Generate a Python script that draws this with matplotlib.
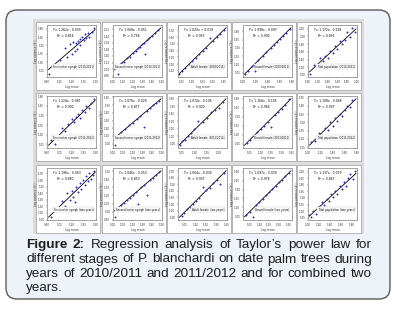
import numpy as np
import matplotlib
matplotlib.use("Agg")
import matplotlib.pyplot as plt
from matplotlib.patches import FancyBboxPatch, Rectangle
from matplotlib.ticker import MaxNLocator, FormatStrFormatter

# ---- data ----
stages = ["First instar nymph", "Second instar nymph", "Adult female",
          "Gravid female", "Total population"]
periods = ["(2010/2011)", "(2011/2012)", "(two years)"]

slopes = [1.262, 1.068, 1.020, 1.098, 1.172,
          1.224, 1.076, 1.074, 1.166, 1.108,
          1.196, 1.046, 1.064, 1.097, 1.137]
intercepts = [-0.093, -0.051, 0.019, -0.097, -0.128,
              -0.087, -0.020, -0.106, -0.105, -0.048,
              -0.063, -0.053, -0.034, -0.030, -0.079]
r_squared = [0.854, 0.758, 0.957, 0.992, 0.836,
             0.902, 0.877, 0.920, 0.964, 0.907,
             0.880, 0.850, 0.937, 0.978, 0.867]
x_limits = [(0.90, 1.50), (1.00, 1.50), (1.00, 1.70), (1.00, 1.80), (1.00, 2.00),
            (0.90, 1.50), (1.00, 1.50), (1.00, 1.60), (0.95, 1.65), (1.00, 1.80),
            (0.90, 1.50), (1.00, 1.50), (0.95, 1.65), (0.95, 1.70), (1.00, 1.90)]

log_mean = [
    [0.93, 1.06, 1.12, 1.15, 1.18, 1.20, 1.22, 1.24, 1.25, 1.27, 1.28, 1.30, 1.31, 1.33, 1.35, 1.36, 1.38, 1.40, 1.42, 1.45, 1.47],
    [1.05, 1.08, 1.11, 1.14, 1.17, 1.20, 1.23, 1.26, 1.28, 1.30, 1.32, 1.33, 1.35, 1.37, 1.40, 1.43, 1.46],
    [1.02, 1.05, 1.10, 1.15, 1.20, 1.25, 1.30, 1.35, 1.40, 1.45, 1.50, 1.55, 1.60, 1.65],
    [1.03, 1.08, 1.15, 1.20, 1.25, 1.32, 1.38, 1.45, 1.50, 1.55, 1.60, 1.65, 1.70, 1.76],
    [1.05, 1.12, 1.20, 1.25, 1.30, 1.35, 1.40, 1.45, 1.50, 1.55, 1.60, 1.65, 1.70, 1.75, 1.80, 1.85, 1.90, 1.95],
    [0.95, 1.00, 1.08, 1.12, 1.16, 1.20, 1.23, 1.26, 1.28, 1.30, 1.33, 1.36, 1.38, 1.41, 1.44, 1.47],
    [1.02, 1.08, 1.12, 1.16, 1.20, 1.24, 1.28, 1.32, 1.35, 1.38, 1.41, 1.44, 1.47],
    [1.02, 1.05, 1.08, 1.12, 1.16, 1.20, 1.25, 1.30, 1.35, 1.40, 1.45, 1.50, 1.55],
    [1.00, 1.05, 1.10, 1.15, 1.20, 1.25, 1.30, 1.35, 1.40, 1.45, 1.50, 1.55, 1.60],
    [1.05, 1.12, 1.18, 1.24, 1.28, 1.32, 1.36, 1.40, 1.44, 1.48, 1.52, 1.56, 1.60, 1.64, 1.68, 1.72],
    [0.95, 1.00, 1.05, 1.08, 1.12, 1.15, 1.18, 1.20, 1.22, 1.24, 1.26, 1.28, 1.30, 1.32, 1.34, 1.36, 1.38, 1.40, 1.42, 1.44, 1.46, 1.48],
    [1.02, 1.05, 1.08, 1.11, 1.14, 1.17, 1.20, 1.23, 1.26, 1.29, 1.32, 1.35, 1.38, 1.41, 1.44, 1.47],
    [1.00, 1.04, 1.08, 1.12, 1.16, 1.20, 1.25, 1.30, 1.35, 1.40, 1.45, 1.50, 1.55, 1.60],
    [1.00, 1.05, 1.10, 1.15, 1.20, 1.25, 1.30, 1.35, 1.40, 1.45, 1.50, 1.55, 1.60, 1.65],
    [1.02, 1.06, 1.10, 1.14, 1.18, 1.22, 1.26, 1.30, 1.34, 1.38, 1.42, 1.46, 1.50, 1.54, 1.58, 1.62, 1.66, 1.70, 1.74, 1.78, 1.82, 1.86],
]
log_var = [
    [0.98, 1.24, 1.46, 1.30, 1.52, 1.35, 1.56, 1.40, 1.55, 1.44, 1.58, 1.62, 1.50, 1.66, 1.60, 1.70, 1.63, 1.72, 1.66, 1.74, 1.82],
    [0.98, 1.11, 1.13, 1.18, 1.19, 1.24, 1.26, 1.30, 1.31, 1.34, 1.36, 1.22, 1.39, 1.42, 1.44, 1.48, 1.51],
    [1.05, 1.10, 1.14, 1.20, 1.24, 1.29, 1.35, 1.40, 1.44, 1.58, 1.55, 1.60, 1.64, 1.71],
    [1.03, 1.09, 1.17, 1.08, 1.28, 1.35, 1.42, 1.50, 1.55, 1.60, 1.66, 1.71, 1.77, 1.84],
    [1.02, 1.25, 1.22, 1.45, 1.36, 1.50, 1.44, 1.62, 1.58, 1.74, 1.68, 1.88, 1.80, 1.90, 2.10, 1.98, 2.22, 2.12],
    [1.12, 1.06, 1.30, 1.26, 1.36, 1.44, 1.40, 1.47, 1.52, 1.46, 1.58, 1.56, 1.65, 1.62, 1.70, 1.76],
    [0.98, 1.15, 1.19, 1.24, 1.27, 1.32, 1.36, 1.22, 1.43, 1.47, 1.50, 1.53, 1.56],
    [0.98, 1.03, 1.05, 1.10, 1.14, 1.20, 1.30, 1.29, 1.34, 1.42, 1.45, 1.47, 1.56],
    [1.06, 1.12, 1.18, 1.24, 1.29, 1.35, 1.41, 1.33, 1.53, 1.59, 1.64, 1.70, 1.80],
    [1.14, 1.16, 1.30, 1.24, 1.40, 1.36, 1.50, 1.44, 1.58, 1.52, 1.66, 1.62, 1.72, 1.80, 1.78, 1.90],
    [1.04, 1.18, 1.14, 1.28, 1.20, 1.40, 1.30, 1.44, 1.34, 1.26, 1.50, 1.42, 1.56, 1.46, 1.60, 1.52, 1.66, 1.58, 1.70, 1.62, 1.68, 1.74],
    [0.93, 1.05, 1.08, 1.11, 1.14, 1.17, 1.20, 1.24, 1.10, 1.30, 1.33, 1.20, 1.39, 1.42, 1.45, 1.49],
    [1.02, 1.07, 1.12, 1.16, 1.20, 1.25, 1.29, 1.46, 1.41, 1.45, 1.52, 1.56, 1.50, 1.67],
    [1.07, 1.12, 1.03, 1.23, 1.29, 1.34, 1.40, 1.45, 1.51, 1.56, 1.62, 1.67, 1.73, 1.78],
    [1.10, 1.06, 1.20, 1.14, 1.30, 1.22, 1.40, 1.34, 1.48, 1.42, 1.60, 1.52, 1.66, 1.58, 1.78, 1.70, 1.86, 1.78, 1.96, 2.04, 1.94, 2.12],
]

caption_lines = [
    [("Figure", "bold"), ("2:", "bold"), ("Regression", "normal"), ("analysis", "normal"),
     ("of", "normal"), ("Taylor’s", "normal"), ("power", "normal"), ("law", "normal"), ("for", "normal")],
    [(w, "normal") for w in "different stages of P. blanchardi on date palm trees during".split()],
    [(w, "normal") for w in "years of 2010/2011 and 2011/2012 and for combined two".split()],
    [("years.", "normal")],
]

# ---- layout (pixels) ----
W, H = 396, 309
fig = plt.figure(figsize=(W / 100, H / 100), dpi=100)
fig.patch.set_facecolor("white")

bg = fig.add_axes([0, 0, 1, 1])
bg.set_xlim(0, W)
bg.set_ylim(H, 0)
bg.axis("off")
bg.add_patch(FancyBboxPatch((6, 10), 384, 289, boxstyle="round,pad=0,rounding_size=11",
                            facecolor="#edf3f9", edgecolor="#5a5a5a", linewidth=1.0))
bg.add_patch(Rectangle((33, 19), 331, 215, facecolor="#dcdcdc", edgecolor="none"))

col_left = [35, 101, 166, 231, 296]
row_top = [21, 92, 164]
pw, ph = 65, 69


def to_fig(l, t, r, b):
    return [l / W, 1 - b / H, (r - l) / W, (b - t) / H]


for i in range(15):
    row, col = divmod(i, 5)
    cl, rt = col_left[col], row_top[row]
    bg.add_patch(Rectangle((cl + 0.5, rt + 0.5), pw - 1, ph - 1, facecolor="white",
                           edgecolor="#ababab", linewidth=0.6))
    ax = fig.add_axes(to_fig(cl + 12, rt + 4, cl + pw - 4, rt + ph - 13))
    x = np.array(log_mean[i])
    y = np.array(log_var[i])
    x0, x1 = x_limits[i]
    a, b = slopes[i], intercepts[i]
    fit_x = np.array([x0 + 0.03 * (x1 - x0), x1 - 0.02 * (x1 - x0)])
    fit_y = a * fit_x + b
    lo = min(fit_y.min(), y.min())
    hi = max(fit_y.max(), y.max())
    pad = 0.06 * (hi - lo)
    ax.plot(fit_x, fit_y, color="black", linewidth=0.6)
    ax.scatter(x, y, s=1.5, marker="D", color="#2b2bd0", linewidths=0, zorder=3)
    ax.set_xlim(x0, x1)
    ax.set_ylim(lo - pad, hi + pad)
    ax.xaxis.set_major_locator(MaxNLocator(5))
    ax.yaxis.set_major_locator(MaxNLocator(8))
    ax.xaxis.set_major_formatter(FormatStrFormatter("%.2f"))
    ax.yaxis.set_major_formatter(FormatStrFormatter("%.2f"))
    ax.tick_params(labelsize=2.0, length=1, width=0.3, pad=1, colors="#333333")
    for s in ax.spines.values():
        s.set_color("#7f7f7f")
        s.set_linewidth(0.5)
    ax.set_xlabel("Log mean", fontsize=2.0, labelpad=1, color="#333333")
    ax.set_ylabel("Log variance (S²)", fontsize=2.0, labelpad=0.5, color="#333333")
    sign = "-" if b < 0 else "+"
    ax.text(0.1, 0.9, "Y = %.3fx %s %.3f" % (a, sign, abs(b)), transform=ax.transAxes,
            fontsize=2.2, va="center")
    ax.text(0.2, 0.78, "R² = %.3f" % r_squared[i], transform=ax.transAxes,
            fontsize=2.2, va="center")
    ax.text(0.95, 0.2, "%s %s" % (stages[col], periods[row]), transform=ax.transAxes,
            fontsize=1.9, ha="right", va="center",
            bbox=dict(boxstyle="square,pad=0.3", facecolor="white", edgecolor="#cccccc", linewidth=0.3))

# ---- caption, justified ----
renderer = fig.canvas.get_renderer()
x_left, x_right = 26, 372


def word_width(s, weight, size):
    t = fig.text(0, 0, s, fontsize=size, family="Liberation Sans", weight=weight)
    w = t.get_window_extent(renderer).width
    t.remove()
    return w


def line_natural(words, size):
    sp = word_width("a b", "normal", size) - word_width("ab", "normal", size)
    return sum(word_width(w, wt, size) for w, wt in words) + sp * (len(words) - 1)


# the second caption line fills the width with plain spacing
cap_size = 10.0
cap_size *= (x_right - x_left) / line_natural(caption_lines[1], cap_size)
space = word_width("a b", "normal", cap_size) - word_width("ab", "normal", cap_size)

line_y = [245, 259.5, 274, 288.5]
for k, words in enumerate(caption_lines):
    widths = [word_width(w, wt, cap_size) for w, wt in words]
    if k < len(caption_lines) - 1 and len(words) > 1:
        gap = (x_right - x_left - sum(widths)) / (len(words) - 1)
    else:
        gap = space
    xp = x_left
    for (w, wt), ww in zip(words, widths):
        fig.text(xp / W, 1 - line_y[k] / H, w, fontsize=cap_size, family="Liberation Sans",
                 weight=wt, color="#1e1e1e", va="center", ha="left")
        xp += ww + gap

fig.savefig("out.png", dpi=100)
